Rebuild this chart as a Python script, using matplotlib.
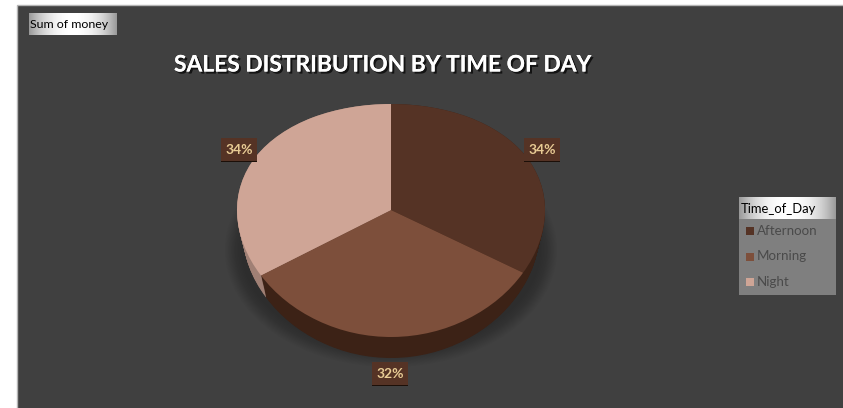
import numpy as np
import matplotlib
matplotlib.use("Agg")
import matplotlib.pyplot as plt
import matplotlib.patheffects as pe
from matplotlib.patches import Rectangle, Ellipse

plt.rcParams['font.family'] = ['Lato', 'DejaVu Sans']

categories = ["Afternoon", "Morning", "Night"]
shares = [33.6, 32.4, 34.0]
top_colors = ["#553325", "#7d4f3b", "#cfa596"]
side_colors = ["#3c2216", "#3c2216", "#a08075"]
title = "SALES DISTRIBUTION BY TIME OF DAY"
filter_label = "Sum of money"
legend_title = "Time_of_Day"

W, H = 843, 408
fig = plt.figure(figsize=(W / 100, H / 100), dpi=100, facecolor="white")

# pixel space layer for panel, buttons and legend
bg = fig.add_axes([0, 0, 1, 1], zorder=0)
bg.axis("off")
bg.add_patch(Rectangle((17, 4.5), W, H, fc="#404040", ec="#b5b5b5", lw=1))

# soft shadow under the pie
for i in range(12):
    bg.add_patch(Ellipse((391, 250), 2 * (166 - i * 1.5), 2 * (117 - i * 1.5),
                         fc="black", ec="none", alpha=0.018))


def button(x0, y0, x1, y1):
    grad = np.abs(np.linspace(-1, 1, 200))[None, :]
    bg.imshow(1 - 0.4 * grad ** 2.2, extent=(x0, x1, y1, y0), cmap="gray",
              vmin=0, vmax=1, aspect="auto", zorder=3)


button(28.5, 13, 116, 35)
bg.text(30, 24.5, filter_label, fontsize=8.9, color="black", va="center", zorder=4)

bg.add_patch(Rectangle((739, 197), 97, 98, fc="#7f7f7f", ec="none", zorder=2))
button(739, 197, 836, 219)
bg.text(741, 209, legend_title, fontsize=9.4, color="black", va="center", zorder=4)
for i, name in enumerate(categories):
    y = 231 + i * 25.5
    bg.add_patch(Rectangle((746, y - 4), 8, 8, fc=top_colors[i], ec="none", zorder=3))
    bg.text(757, y, name, fontsize=9.6, color="#4a4a4a", va="center", zorder=4)

bg.set_xlim(0, W)
bg.set_ylim(H, 0)

txt = fig.text(174 / W, 1 - 65 / H, title, fontsize=16.4, fontweight="bold",
               color="white", va="center", zorder=10)
txt.set_path_effects([pe.withSimplePatchShadow(offset=(1.5, -1.5), alpha=0.7,
                                               shadow_rgbFace="black"), pe.Normal()])

# pie axes: unit circle mapped on the tilted ellipse, y warped for perspective
top_px, apex_px, bot_px, depth_px = 104, 210, 337, 22
a = (bot_px - top_px) / 2
b = (bot_px + top_px) / 2 - apex_px


def warp(y):
    y = np.asarray(y, dtype=float)
    return y - (b / a) * np.clip(y, -3, 3) ** 2


def unwarp(v):
    v = np.asarray(v, dtype=float)
    k = b / a
    return (1 - np.sqrt(np.maximum(1 - 4 * k * v, 0))) / (2 * k)


ax = fig.add_axes([0, 0, 1, 1], zorder=2)
ax.patch.set_alpha(0)

# side wall: stacked copies of the pie, shrinking with depth
for d in np.linspace(depth_px / a, 0, 24):
    ax.pie(shares, colors=side_colors, startangle=90, counterclock=False,
           center=(0, -d), radius=1 - 0.2 * d, frame=True)
ax.pie(shares, colors=top_colors, startangle=90, counterclock=False, frame=True)

ax.set_aspect("auto")
ax.set_yscale("function", functions=(warp, unwarp))
rx = 154
cx = 391
ax.set_xlim((0 - cx) / rx, (W - cx) / rx)
# axes limits chosen so warped y lands on the pixel rows of the picture
ax.set_ylim(unwarp((apex_px - H) / a), unwarp(apex_px / a))
ax.axis("off")

# percent labels in their own pixel layer
over = fig.add_axes([0, 0, 1, 1], zorder=5)
over.patch.set_alpha(0)
over.axis("off")
label_boxes = [(524, 138), (372, 362), (221, 138)]
for share, (lx, ly) in zip(shares, label_boxes):
    over.add_patch(Rectangle((lx, ly), 36, 24, fc="#553325", ec="none"))
    over.add_patch(Rectangle((lx, ly + 22.5), 36, 1.5, fc="#1c0f08", ec="none"))
    over.text(lx + 18, ly + 11.5, f"{share:.0f}%", fontsize=10, fontweight="bold",
              color="#e8cb94", ha="center", va="center")
over.set_xlim(0, W)
over.set_ylim(H, 0)

fig.savefig("out.png", dpi=100)
plt.close()
